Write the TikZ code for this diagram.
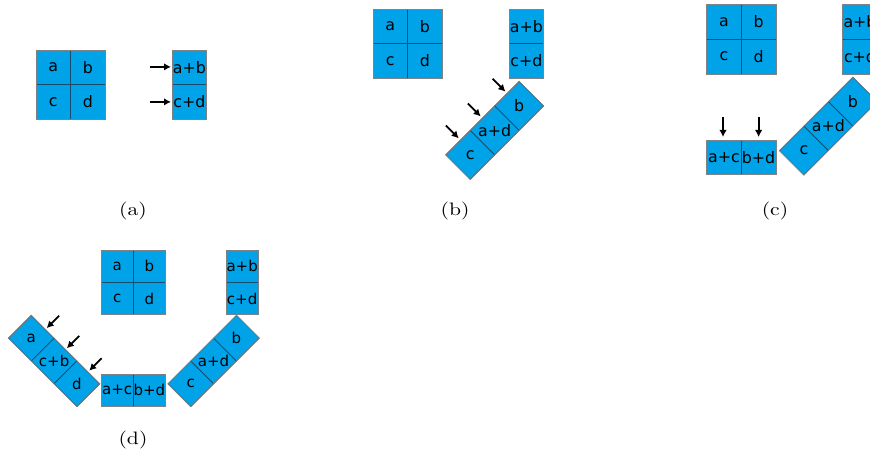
\documentclass[tikz,border=0pt]{standalone}
\usepackage{fontspec}
\newfontfamily\cellfont{DejaVu Sans}
\newfontfamily\labfont[Extension=.otf, FakeStretch=1.2]{lmroman10-regular}
\usetikzlibrary{arrows.meta}
\definecolor{cellfill}{RGB}{0,162,232}
\definecolor{cellline}{RGB}{25,75,110}
\definecolor{outline}{RGB}{125,130,135}
\tikzset{
  cell/.style={shape=rectangle, draw=cellline, fill=cellfill, line width=0.7pt,
    minimum width=#1, minimum height=#1, inner sep=0pt, outer sep=0pt},
  txt/.style={inner sep=0pt, font=\cellfont\fontsize{15.8}{16}\selectfont},
  txtd/.style={inner sep=0pt, font=\cellfont\fontsize{15}{16}\selectfont},
  outer/.style={draw=outline, line width=0.7pt},
  arr/.style={line width=1.8pt, -{Latex[length=7pt,width=7.5pt]}},
  lab/.style={inner sep=0pt, font=\labfont\fontsize{18}{20}\selectfont}
}
\begin{document}
\begin{tikzpicture}[x=1pt,y=-1pt]
\useasboundingbox (0,0) rectangle (870,457);
\clip (0,0) rectangle (870,457);

% ---------------- (a) ----------------
\node[cell=34.6pt,txt] (aa) at (53.3,67.3) {a};
\node[cell=34.6pt,txt] (ab) at (87.9,67.3) {b};
\node[cell=34.6pt,txt] (ac) at (53.3,101.9) {c};
\node[cell=34.6pt,txt] (ad) at (87.9,101.9) {d};
\draw[outer] (aa.north west) rectangle (ad.south east);
\node[cell=34.6pt,txt] (aab) at (189.3,67.3) {a+b};
\node[cell=34.6pt,txt] (acd) at (189.3,101.9) {c+d};
\draw[outer] (aab.north west) rectangle (acd.south east);
\coordinate (aar1) at (150,66.9);
\coordinate (aar2) at (150,101.9);
\draw[arr, shorten >=1pt] (aar1) -- (aar1 -| aab.west);
\draw[arr, shorten >=1pt] (aar2) -- (acd.west);
\node[lab] (laba) at (133,211) {(a)};

% ---------------- (b) ----------------
\node[cell=34.6pt,txt] (ba) at (390.3,26.3) {a};
\node[cell=34.6pt,txt] (bb) at (424.9,26.3) {b};
\node[cell=34.6pt,txt] (bc) at (390.3,60.9) {c};
\node[cell=34.6pt,txt] (bd) at (424.9,60.9) {d};
\draw[outer] (ba.north west) rectangle (bd.south east);
\node[cell=34.6pt,txt] (bab) at (526.3,26.3) {a+b};
\node[cell=34.6pt,txt] (bcd) at (526.3,60.9) {c+d};
\draw[outer] (bab.north west) rectangle (bcd.south east);
\begin{scope}[shift={(494.7,130.4)}, rotate=45]
  \node[cell=34.6pt, transform shape] (bs1) at (-34.6,0) {};
  \node[cell=34.6pt, transform shape] (bs2) at (0,0) {};
  \node[cell=34.6pt, transform shape] (bs3) at (34.6,0) {};
  \draw[outer] (bs1.north west) -- (bs3.north east) -- (bs3.south east) -- (bs1.south west) -- cycle;
  \node[txt] (bt1) at (bs1.center) {c};
  \node[txt] (bt2) at (bs2.center) {a+d};
  \node[txt] (bt3) at (bs3.center) {b};
  \coordinate (bq1) at (-31,-38);
  \coordinate (bp1) at (-31,-19.8);
  \coordinate (bq2) at (0,-38);
  \coordinate (bp2) at (0,-19.8);
  \coordinate (bq3) at (35,-38);
  \coordinate (bp3) at (35,-19.8);
\end{scope}
\draw[arr] (bq1) -- (bp1);
\draw[arr] (bq2) -- (bp2);
\draw[arr] (bq3) -- (bp3);
\node[lab] (labb) at (455,211) {(b)};

% ---------------- (c) ----------------
\node[cell=34.6pt,txt] (ca) at (724,22) {a};
\node[cell=34.6pt,txt] (cb) at (758.6,22) {b};
\node[cell=34.6pt,txt] (cc) at (724,56.6) {c};
\node[cell=34.6pt,txt] (cd) at (758.6,56.6) {d};
\draw[outer] (ca.north west) rectangle (cd.south east);
\node[cell=34.6pt,txt] (cab) at (860,22) {a+b};
\node[cell=34.6pt,txt] (ccd) at (860,56.6) {c+d};
\draw[outer] (cab.north west) rectangle (ccd.south east);
\begin{scope}[shift={(828.4,126.1)}, rotate=45]
  \node[cell=34.6pt, transform shape] (cs1) at (-34.6,0) {};
  \node[cell=34.6pt, transform shape] (cs2) at (0,0) {};
  \node[cell=34.6pt, transform shape] (cs3) at (34.6,0) {};
  \draw[outer] (cs1.north west) -- (cs3.north east) -- (cs3.south east) -- (cs1.south west) -- cycle;
  \node[txt] (ct1) at (cs1.center) {c};
  \node[txt] (ct2) at (cs2.center) {a+d};
  \node[txt] (ct3) at (cs3.center) {b};
\end{scope}
\node[cell=34.6pt,txt] (cac) at (724,157.3) {a+c};
\node[cell=34.6pt,txt] (cbd) at (758.6,157.3) {b+d};
\draw[outer] (cac.north west) rectangle (cbd.south east);
\coordinate (car1) at (723,117);
\coordinate (car2) at (758.6,117);
\draw[arr, shorten >=3pt] (car1) -- (car1 |- cac.north);
\draw[arr, shorten >=3pt] (car2) -- (cbd.north);
\node[lab] (labc) at (775,211) {(c)};

% ---------------- (d) ----------------
\node[cell=32.3pt,txtd] (da) at (117.15,266.15) {a};
\node[cell=32.3pt,txtd] (db) at (149.45,266.15) {b};
\node[cell=32.3pt,txtd] (dc) at (117.15,298.45) {c};
\node[cell=32.3pt,txtd] (dd) at (149.45,298.45) {d};
\draw[outer] (da.north west) rectangle (dd.south east);
\node[cell=32.3pt,txtd] (dab) at (242.15,266.15) {a+b};
\node[cell=32.3pt,txtd] (dcd) at (242.15,298.45) {c+d};
\draw[outer] (dab.north west) rectangle (dcd.south east);
\node[cell=32.3pt,txtd] (dac) at (117.15,390.15) {a+c};
\node[cell=32.3pt,txtd] (dbd) at (149.45,390.15) {b+d};
\draw[outer] (dac.north west) rectangle (dbd.south east);
% right strip
\begin{scope}[shift={(213.6,361)}, rotate=45]
  \node[cell=32.3pt, transform shape] (drs1) at (-32.3,0) {};
  \node[cell=32.3pt, transform shape] (drs2) at (0,0) {};
  \node[cell=32.3pt, transform shape] (drs3) at (32.3,0) {};
  \draw[outer] (drs1.north west) -- (drs3.north east) -- (drs3.south east) -- (drs1.south west) -- cycle;
  \node[txtd] (drt1) at (drs1.center) {c};
  \node[txtd] (drt2) at (drs2.center) {a+d};
  \node[txtd] (drt3) at (drs3.center) {b};
\end{scope}
% left strip
\begin{scope}[shift={(54.1,361)}, rotate=-45]
  \node[cell=32.3pt, transform shape] (dls1) at (-32.3,0) {};
  \node[cell=32.3pt, transform shape] (dls2) at (0,0) {};
  \node[cell=32.3pt, transform shape] (dls3) at (32.3,0) {};
  \draw[outer] (dls1.north west) -- (dls3.north east) -- (dls3.south east) -- (dls1.south west) -- cycle;
  \node[txtd] (dlt1) at (dls1.center) {a};
  \node[txtd] (dlt2) at (dls2.center) {c+b};
  \node[txtd] (dlt3) at (dls3.center) {d};
  \coordinate (dq1) at (-28.5,-35.5);
  \coordinate (dp1) at (-28.5,-18);
  \coordinate (dq2) at (0,-35.5);
  \coordinate (dp2) at (0,-18);
  \coordinate (dq3) at (31.7,-35.5);
  \coordinate (dp3) at (31.7,-18);
\end{scope}
\draw[arr] (dq1) -- (dp1);
\draw[arr] (dq2) -- (dp2);
\draw[arr] (dq3) -- (dp3);
\node[lab] (labd) at (133,440) {(d)};
\end{tikzpicture}
\end{document}
